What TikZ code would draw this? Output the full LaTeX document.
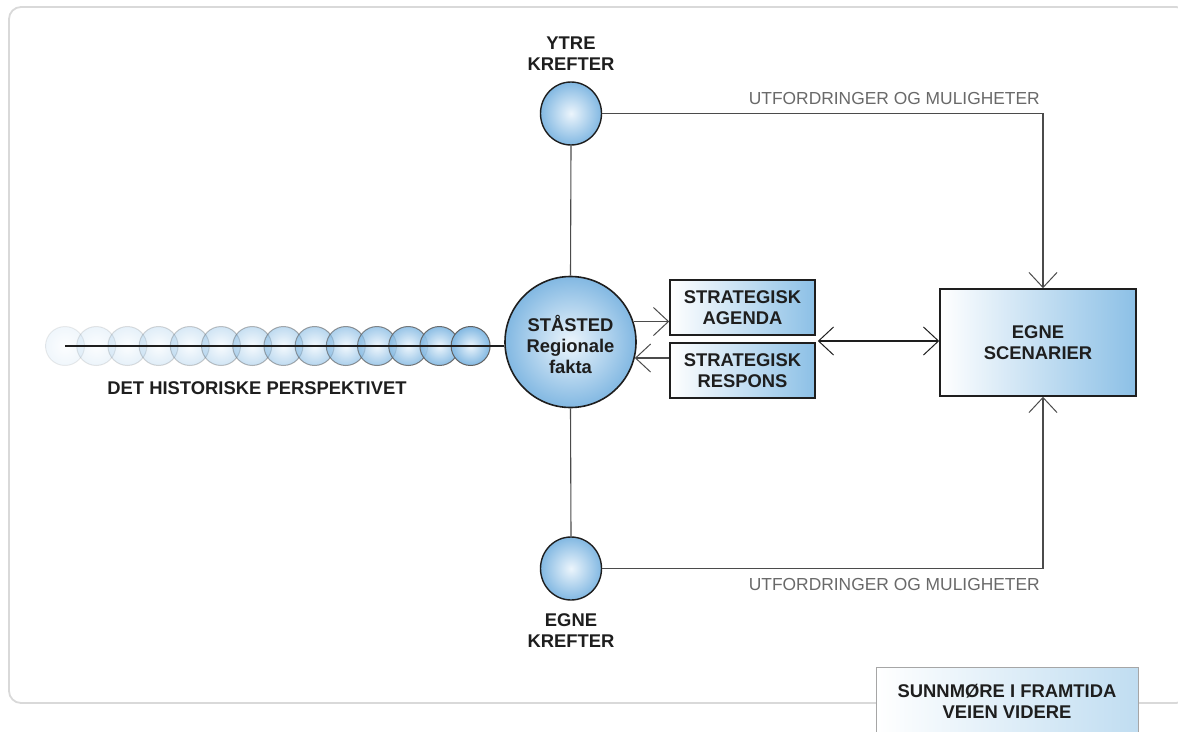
\documentclass[tikz,border=0pt]{standalone}
\usepackage{fontspec}
\setmainfont{Liberation Sans}
\usetikzlibrary{arrows.meta,shapes.geometric,calc}

\definecolor{edgeblue}{RGB}{130,184,226}
\definecolor{coreblue}{RGB}{236,245,252}
\definecolor{boxblue}{RGB}{140,192,230}
\definecolor{paleblue}{RGB}{192,221,241}
\definecolor{framegray}{RGB}{217,217,217}
\definecolor{linegray}{RGB}{75,75,75}
\definecolor{labelgray}{RGB}{105,105,105}
\definecolor{ink}{RGB}{30,30,30}

\tikzset{
  lbl/.style={font=\bfseries\fontsize{18.4}{21}\selectfont, align=center, text=ink, inner sep=0pt},
  sublbl/.style={font=\fontsize{17.4}{20}\selectfont, text=labelgray, inner sep=0pt},
  ball/.style={ellipse, draw=ink, line width=1.4pt, inner color=coreblue, outer color=edgeblue},
  hball/.style={circle, draw=ink!70, line width=1pt, minimum size=39pt, inner sep=0pt,
                inner color=coreblue, outer color=edgeblue},
  bluebox/.style={rectangle, draw=ink, line width=1.6pt, left color=white, right color=boxblue,
                  font=\bfseries\fontsize{18.4}{21}\selectfont, align=center, text=ink, inner sep=0pt},
  conn/.style={draw=linegray, line width=1.1pt},
  barb/.tip={Straight Barb[length=15pt,width=28pt,line width=1pt]},
  tip/.style={-barb},
  tips/.style={barb-barb}
}

\begin{document}
\begin{tikzpicture}[x=1pt,y=-1pt]
\useasboundingbox (0,0) rectangle (1178,731);

% outer frame
\draw[framegray, line width=1.8pt, rounded corners=12pt] (9,7) rectangle (1188,703);

% history trail: fading circles
\foreach \i in {0,...,13}{
  \pgfmathsetmacro{\op}{0.12+0.88*(\i/13)^1.3}
  \node[hball, fill opacity=\op, draw opacity=\op] (h\i) at ({65+31.2*\i},346) {};
}

% central position
\node[circle, draw=ink, line width=1.6pt, minimum size=131pt, inner sep=0pt,
      inner color=coreblue, outer color=edgeblue] (stasted) at (570.5,342) {};
\node[lbl] (stastedtxt) at (570.5,344) {STÅSTED\\Regionale\\fakta};

\draw[conn, draw=ink] (h0.center) -- (h0.center -| stasted.west);
\node[lbl] (hist) at (257,388) {DET HISTORISKE PERSPEKTIVET};

% forces
\node[ball, minimum width=61pt, minimum height=63pt] (ytre) at (571,113.5) {};
\node[ball, minimum width=61pt, minimum height=63pt] (egne) at (571,568.5) {};
\node[lbl] (ytretxt) at (571,54) {YTRE\\KREFTER};
\node[lbl] (egnetxt) at (571,631) {EGNE\\KREFTER};

\draw[conn] (ytre.south) -- (stasted.north);
\draw[conn] (stasted.south) -- (egne.north);

% strategy boxes
\node[bluebox, minimum width=145pt, minimum height=55pt] (agenda) at (742.5,307.5) {STRATEGISK\\AGENDA};
\node[bluebox, minimum width=145pt, minimum height=55pt] (respons) at (742.5,370.5) {STRATEGISK\\RESPONS};

% scenarios
\node[bluebox, minimum width=196pt, minimum height=107pt] (scen) at (1038,342.5) {EGNE\\SCENARIER};

% connectors
\draw[conn, tip] (stasted.18) -- (stasted.18 -| agenda.west);
\draw[conn, tip] (stasted.-14 -| respons.west) -- (stasted.-14);
\coordinate (pairout) at ($(scen.west -| agenda.east)+(2,-1.5)$);
\coordinate (scenin) at ($(scen.west)+(0,-1.5)$);
\draw[conn, draw=ink, tips] (pairout) -- (scenin);

\draw[conn, tip] (ytre.east) -| ([xshift=5pt]scen.north);
\draw[conn, tip] (egne.east) -| ([xshift=5pt]scen.south);

\node[sublbl, anchor=south east] (utf1) at (1040,104.5) {UTFORDRINGER OG MULIGHETER};
\node[sublbl, anchor=north east] (utf2) at (1040,578) {UTFORDRINGER OG MULIGHETER};

% footer tab
\node[rectangle, draw=black!35, line width=1pt, left color=white, right color=paleblue,
      minimum width=262pt, minimum height=80pt, inner sep=0pt, anchor=north west] (tab) at (876,667) {};
\node[lbl] (tabtxt) at (1007,701.5) {SUNNMØRE I FRAMTIDA\\VEIEN VIDERE};
\end{tikzpicture}
\end{document}
